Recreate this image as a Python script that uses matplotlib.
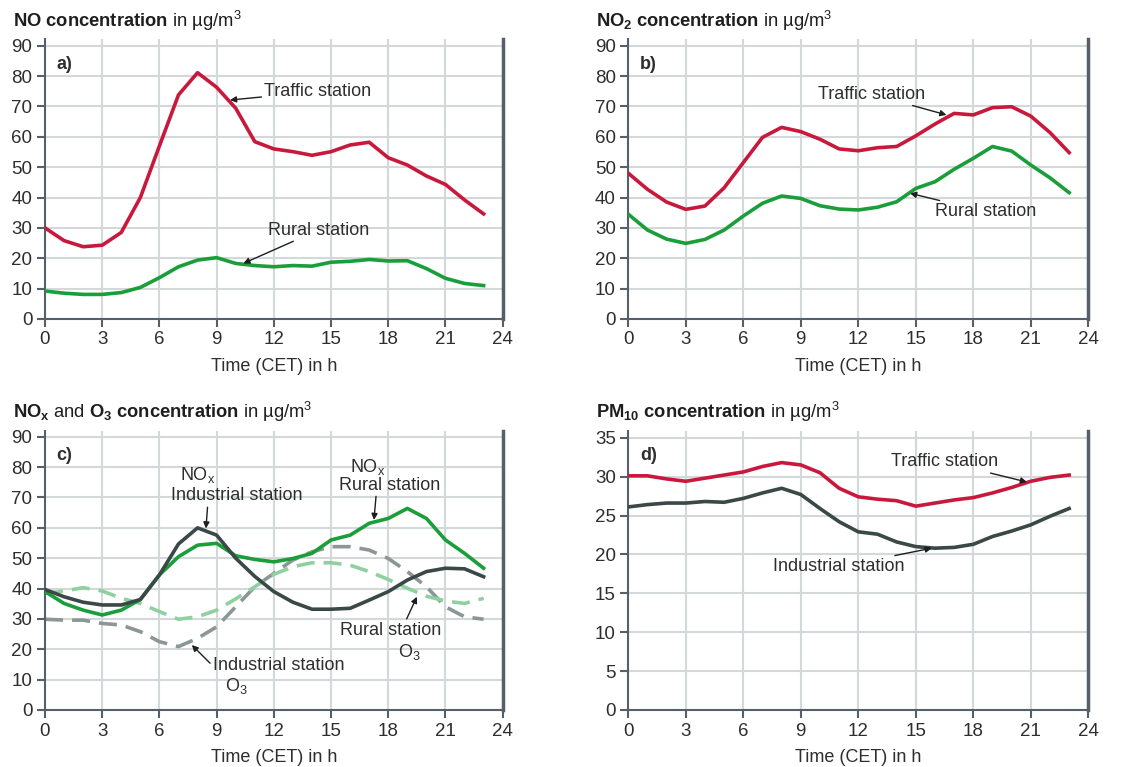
import matplotlib
matplotlib.use("Agg")
import matplotlib.pyplot as plt

plt.rcParams['font.family'] = ['Liberation Sans', 'DejaVu Sans']
plt.rcParams['mathtext.fontset'] = 'custom'
plt.rcParams['mathtext.rm'] = 'Liberation Sans'
plt.rcParams['mathtext.bf'] = 'Liberation Sans:bold'
plt.rcParams['mathtext.it'] = 'Liberation Sans:italic'
plt.rcParams['mathtext.default'] = 'regular'

hours = list(range(24))

# a) NO
no_traffic = [30, 25.8, 23.8, 24.3, 28.5, 40, 57, 73.8, 81.1, 76.3, 69.4, 58.4, 56, 55.1,
              53.9, 55.1, 57.3, 58.2, 53.1, 50.7, 47.1, 44.3, 39.2, 34.6]
no_rural = [9.2, 8.5, 8.1, 8.1, 8.7, 10.4, 13.6, 17.2, 19.4, 20.2, 18.3, 17.6, 17.2, 17.6,
            17.4, 18.7, 19.0, 19.6, 19.1, 19.2, 16.6, 13.4, 11.7, 11.0]
# b) NO2
no2_traffic = [48, 42.7, 38.5, 36.1, 37.2, 43.2, 51.5, 59.8, 63.1, 61.7, 59.2, 56, 55.4, 56.4,
               56.8, 60.3, 64.2, 67.7, 67.2, 69.6, 69.9, 66.8, 61.4, 54.8]
no2_rural = [34.5, 29.3, 26.3, 24.9, 26.2, 29.3, 33.9, 38.1, 40.5, 39.7, 37.3, 36.2, 35.9, 36.8,
             38.6, 43, 45.2, 49.3, 52.9, 56.8, 55.3, 50.7, 46.5, 41.6]
# c) NOx and O3
nox_industrial = [39.7, 37.3, 35.5, 34.6, 34.6, 36.4, 44.5, 54.7, 60, 57.6, 50, 44, 39, 35.5,
                  33.2, 33.2, 33.5, 36.2, 39, 42.8, 45.6, 46.7, 46.5, 43.9]
nox_rural = [39, 35.1, 32.9, 31.3, 32.9, 36.4, 44.5, 50.5, 54.3, 54.9, 50.8, 49.6, 48.8, 49.9,
             51.6, 56, 57.6, 61.5, 63.1, 66.4, 63.1, 56, 51.6, 46.7]
o3_industrial = [29.9, 29.6, 29.6, 28.5, 28, 25.8, 22.5, 20.9, 23.6, 27.4, 34, 40.6, 45, 49.4,
                 52.1, 53.8, 53.8, 52.7, 49.9, 45.6, 40.6, 34, 30.7, 29.9]
o3_rural = [38.4, 39.2, 40.3, 39.2, 36.8, 35.1, 32.4, 29.9, 30.7, 32.9, 36.6, 40.6, 44.7, 47.2,
            48.5, 48.5, 47.7, 45.6, 43, 40.1, 37.5, 35.9, 35.1, 36.8]
# d) PM10
pm_traffic = [30.1, 30.1, 29.7, 29.4, 29.8, 30.2, 30.6, 31.3, 31.8, 31.5, 30.5, 28.5, 27.4, 27.1,
              26.9, 26.2, 26.6, 27.0, 27.3, 27.9, 28.6, 29.4, 29.9, 30.2]
pm_industrial = [26.1, 26.4, 26.6, 26.6, 26.8, 26.7, 27.2, 27.9, 28.5, 27.7, 25.9, 24.2, 22.9, 22.6,
                 21.6, 21.0, 20.8, 20.9, 21.3, 22.3, 23.0, 23.8, 24.9, 25.9]

xticks = [0, 3, 6, 9, 12, 15, 18, 21, 24]
yticks_90 = [0, 10, 20, 30, 40, 50, 60, 70, 80, 90]
yticks_35 = [0, 5, 10, 15, 20, 25, 30, 35]
xlabel = "Time (CET) in h"

RED = '#c8193c'
GREEN = '#1a9e3a'
DARK = '#3b4848'
GRAYD = '#8c9696'
LGREEN = '#8fd19e'
GRID = '#d3d9db'
SPINE = '#56606a'
TXT = '#2e2e2e'

fig = plt.figure(figsize=(11.38, 7.67), dpi=100)
W, H = 1138, 767


def make_ax(x0, x1, ytop_px, y0_px):
    return fig.add_axes([x0 / W, 1 - y0_px / H, (x1 - x0) / W, (y0_px - ytop_px) / H])


def style(ax, yticks, ytop, title, label):
    ax.set_xlim(0, 24)
    ax.set_ylim(0, ytop)
    ax.set_xticks(xticks)
    ax.set_yticks(yticks)
    ax.grid(True, color=GRID, lw=1.5, zorder=0)
    ax.set_axisbelow(True)
    ax.spines['top'].set_visible(False)
    for s in ['left', 'bottom']:
        ax.spines[s].set_color(SPINE)
        ax.spines[s].set_linewidth(1.5)
    ax.spines['right'].set_color(SPINE)
    ax.spines['right'].set_linewidth(2.5)
    ax.tick_params(axis='both', direction='out', length=6, width=1.5, color=SPINE,
                   labelsize=13.5, labelcolor=TXT, pad=3)
    ax.set_xlabel(xlabel, fontsize=13, color=TXT, labelpad=7)
    ax.text(0.025, 0.91, label, transform=ax.transAxes, fontsize=13, fontweight='bold',
            color=TXT, va='center', ha='left')
    ax.text(-0.07, 1.045, title, transform=ax.transAxes, fontsize=13.2, color='#1e1e1e',
            va='baseline', ha='left')


LW = 2.6
arrow = dict(arrowstyle='-|>', color='#1e1e1e', lw=1.0, mutation_scale=9, shrinkA=0, shrinkB=0)

# a)
ax = make_ax(45, 502.7, 39.3, 319)
ax.plot(hours, no_traffic, color=RED, lw=LW, zorder=3)
ax.plot(hours, no_rural, color=GREEN, lw=LW, zorder=3)
style(ax, yticks_90, 92.1, r"$\mathbf{NO\ concentration}$ in µg/m$^3$", "a)")
ax.annotate("Traffic station", xy=(9.7, 72.1), xytext=(11.5, 74.9), fontsize=13, color=TXT,
            va='center', ha='left', arrowprops=arrow)
ax.annotate("Rural station", xy=(10.4, 18.3), xytext=(11.7, 29.3), fontsize=13, color=TXT,
            va='center', ha='left', arrowprops=arrow)

# b)
ax = make_ax(628.3, 1088.3, 39.3, 319)
ax.plot(hours, no2_traffic, color=RED, lw=LW, zorder=3)
ax.plot(hours, no2_rural, color=GREEN, lw=LW, zorder=3)
style(ax, yticks_90, 92.1, r"$\mathbf{NO_2\ concentration}$ in µg/m$^3$", "b)")
ax.annotate("Traffic station", xy=(16.6, 67.2), xytext=(15.5, 74.0), fontsize=13, color=TXT,
            va='center', ha='right', arrowprops=arrow)
ax.annotate("Rural station", xy=(14.7, 41.4), xytext=(16.0, 35.3), fontsize=13, color=TXT,
            va='center', ha='left', arrowprops=arrow)

# c)
ax = make_ax(45, 502.7, 430.7, 710)
ax.plot(hours, o3_industrial, color=GRAYD, lw=LW, ls=(0, (5, 2.5)), zorder=2)
ax.plot(hours, o3_rural, color=LGREEN, lw=LW, ls=(0, (5, 2.5)), zorder=2)
ax.plot(hours, nox_rural, color=GREEN, lw=LW, zorder=3)
ax.plot(hours, nox_industrial, color=DARK, lw=LW, zorder=4)
style(ax, yticks_90, 92.0,
      r"$\mathbf{NO_x}$ and $\mathbf{O_3\ concentration}$ in µg/m$^3$", "c)")
ax.text(8.0, 77.4, r"NO$_x$", fontsize=13, color=TXT, ha='center', va='center')
ax.annotate("Industrial station", xy=(8.44, 59.8), xytext=(10.05, 70.5), fontsize=13, color=TXT,
            va='center', ha='center',
            arrowprops=dict(arrow, relpos=(0.28, 0)))
ax.text(16.9, 80.1, r"NO$_x$", fontsize=13, color=TXT, ha='center', va='center')
ax.annotate("Rural station", xy=(17.25, 62.6), xytext=(18.06, 74.1), fontsize=13, color=TXT,
            va='center', ha='center',
            arrowprops=dict(arrow, relpos=(0.37, 0)))
ax.annotate("Rural station", xy=(19.5, 37.3), xytext=(18.1, 26.3), fontsize=13, color=TXT,
            va='center', ha='center',
            arrowprops=dict(arrow, relpos=(0.65, 1)))
ax.text(19.1, 19.2, r"O$_3$", fontsize=13, color=TXT, ha='center', va='center')
ax.annotate("Industrial station", xy=(7.7, 21.4), xytext=(12.25, 14.8), fontsize=13, color=TXT,
            va='center', ha='center',
            arrowprops=dict(arrow, relpos=(-0.02, 0.6)))
ax.text(10.05, 7.8, r"O$_3$", fontsize=13, color=TXT, ha='center', va='center')

# d)
ax = make_ax(628.3, 1088.3, 430.7, 710)
ax.plot(hours, pm_traffic, color=RED, lw=LW, zorder=3)
ax.plot(hours, pm_industrial, color=DARK, lw=LW, zorder=3)
style(ax, yticks_35, 35.9, r"$\mathbf{PM_{10}\ concentration}$ in µg/m$^3$", "d)")
ax.annotate("Traffic station", xy=(20.8, 29.3), xytext=(19.3, 31.9), fontsize=13, color=TXT,
            va='center', ha='right', arrowprops=arrow)
ax.annotate("Industrial station", xy=(15.83, 20.8), xytext=(14.4, 18.4), fontsize=13, color=TXT,
            va='center', ha='right', arrowprops=arrow)

fig.savefig("out.png", dpi=100, facecolor='white')
